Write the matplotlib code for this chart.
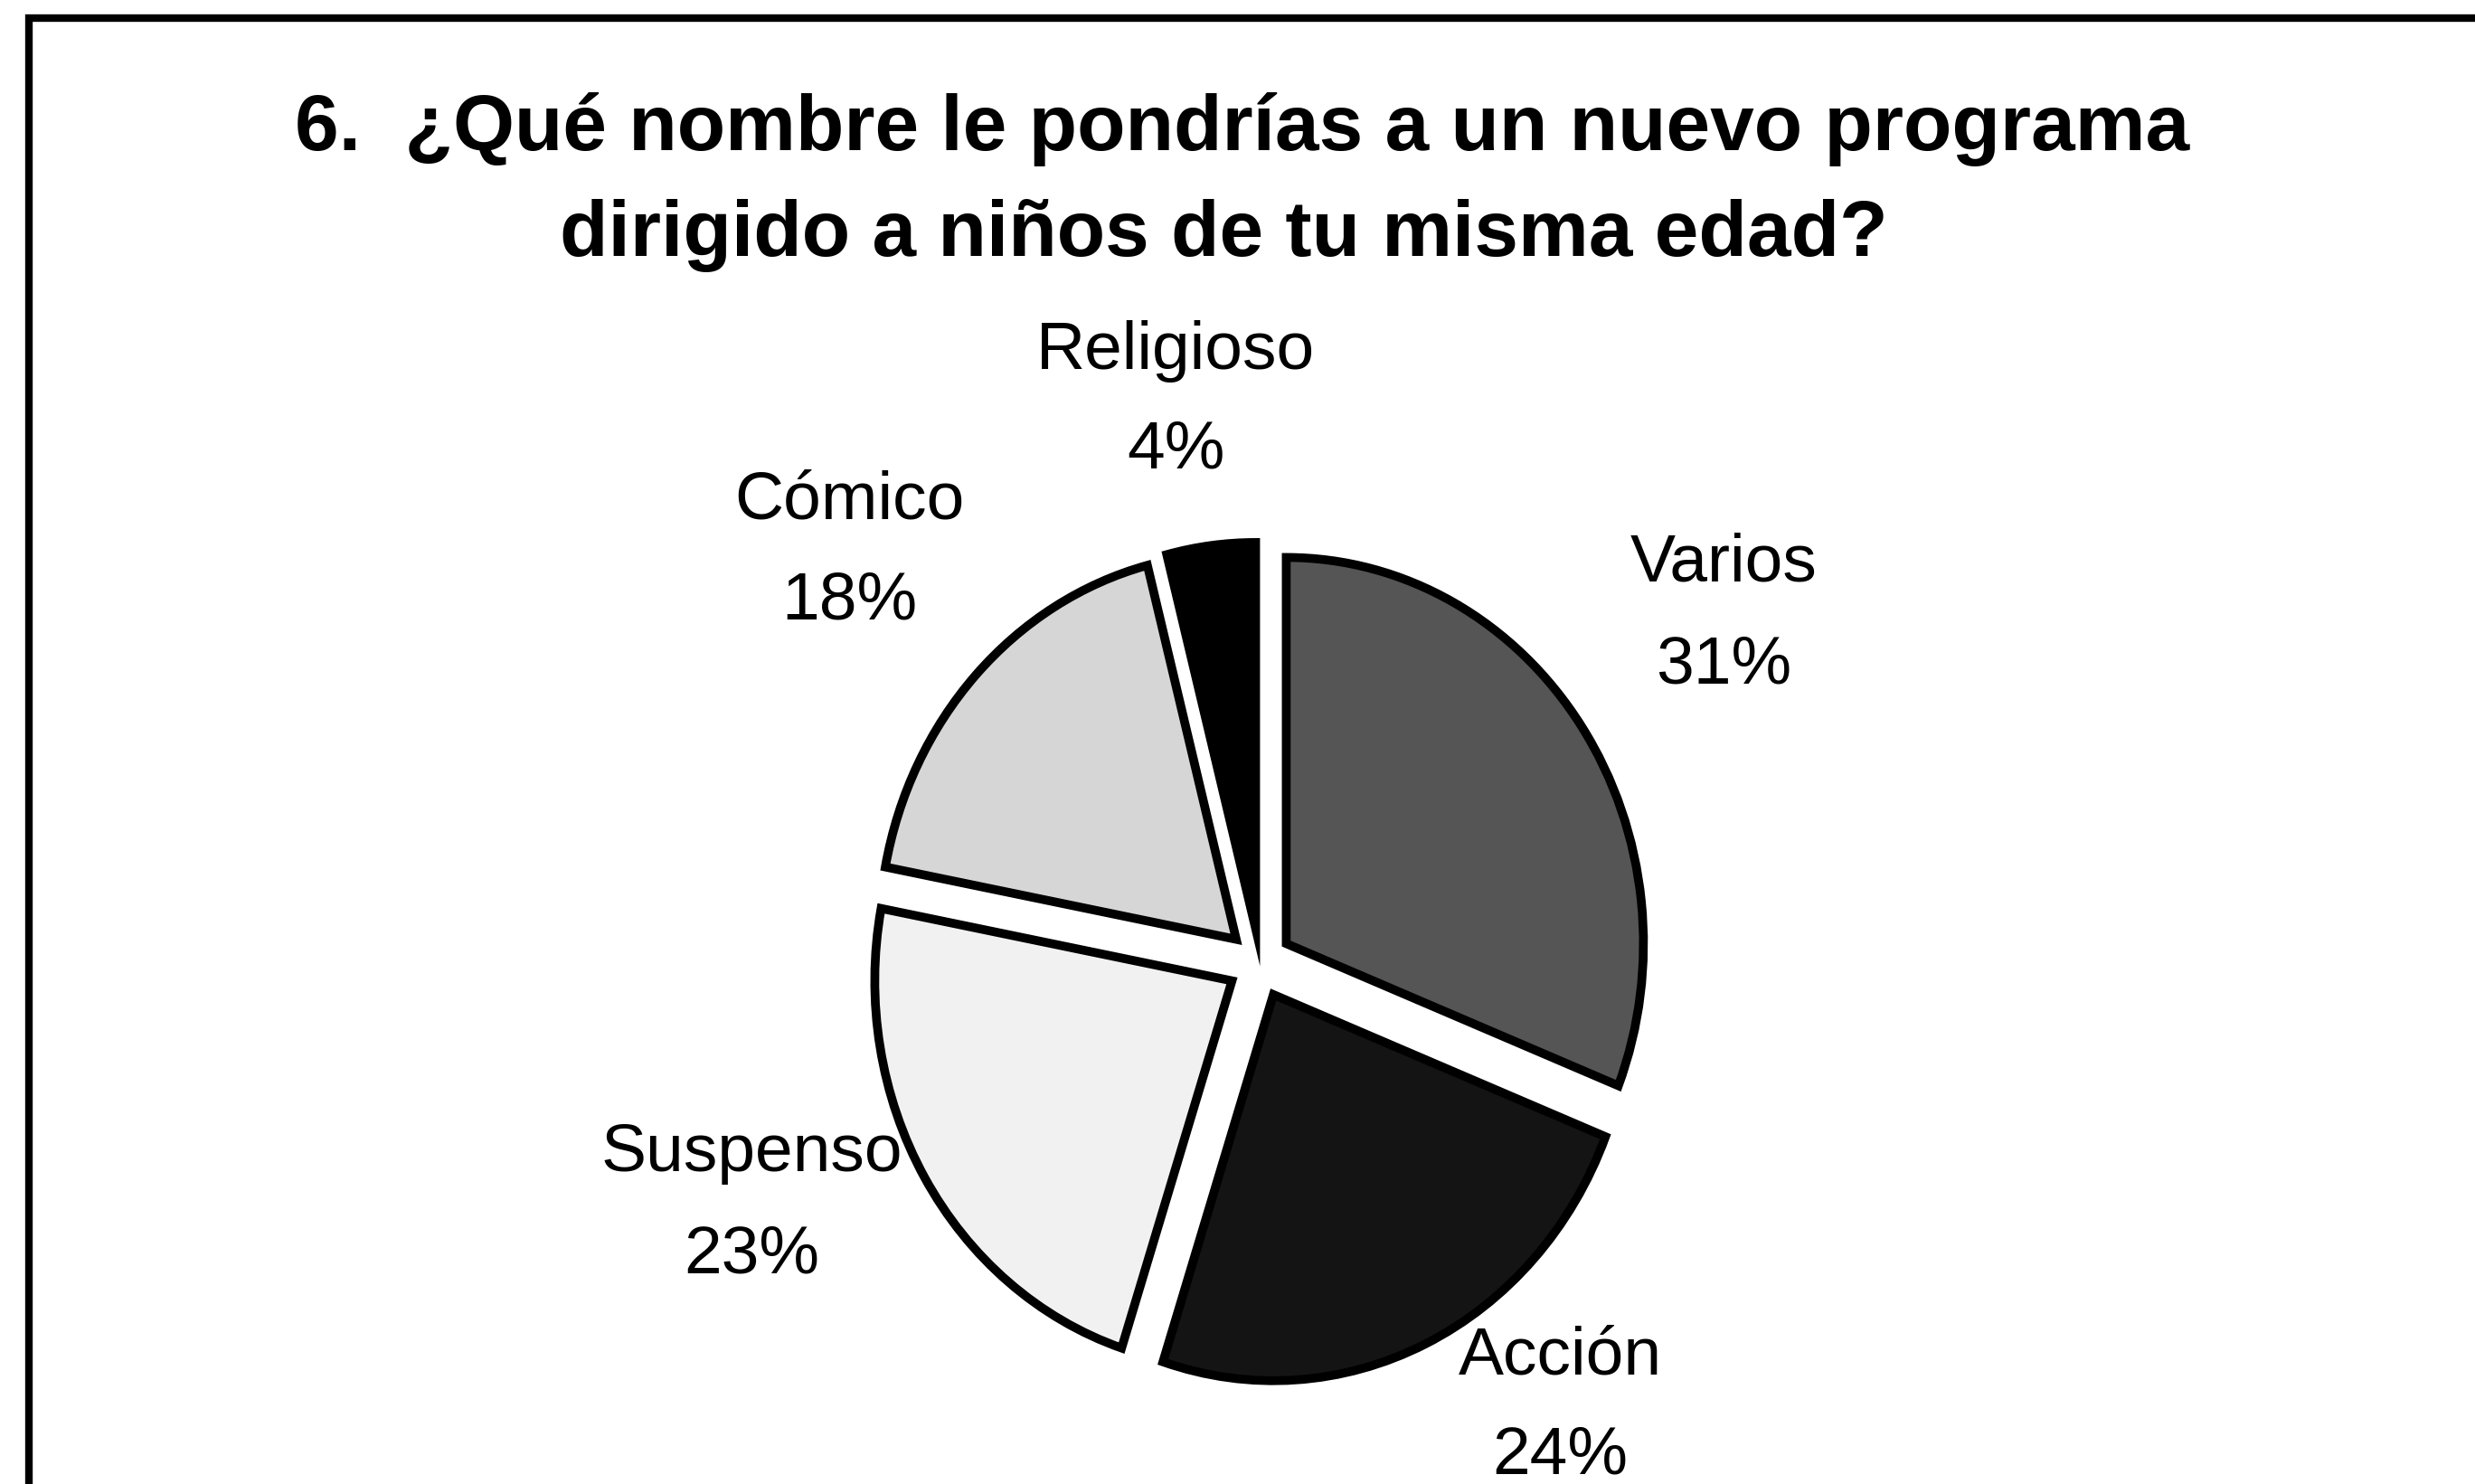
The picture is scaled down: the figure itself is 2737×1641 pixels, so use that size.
import matplotlib
matplotlib.use('Agg')
import matplotlib.pyplot as plt
from matplotlib.patches import Rectangle

# Datos del gráfico
categorias = ['Varios', 'Acción', 'Suspenso', 'Cómico', 'Religioso']
porcentajes = [31, 24, 23, 18, 4]
colores = ['#555555', '#141414', '#f1f1f1', '#d6d6d6', '#000000']

titulo_1 = '6.  ¿Qué nombre le pondrías a un nuevo programa'
titulo_2 = 'dirigido a niños de tu misma edad?'

# Posición de las etiquetas (px de la figura: x centro, línea base nombre, línea base %)
pos_etiquetas = [
    (1906, 642, 756),
    (1725, 1519, 1629),
    (831, 1295, 1407),
    (939, 573, 684),
    (1300, 408, 518),
]

W, H = 2737, 1641
fig = plt.figure(figsize=(W / 100, H / 100), dpi=100)
plt.rcParams['font.family'] = ['Liberation Sans', 'DejaVu Sans']

# Ejes colocados para que el centro del pastel quede en (1393, 1065) px
ax = fig.add_axes([0.2203, -0.1694, 0.5773, 1.0408])
ax.pie(
    porcentajes,
    colors=colores,
    startangle=90,
    counterclock=False,
    explode=[0.09] * len(porcentajes),
    wedgeprops=dict(edgecolor='black', linewidth=7, joinstyle='miter'),
)
ax.set_xlim(-2, 2)
ax.set_ylim(-2, 2)
ax.set_aspect('auto')
ax.axis('off')

for cat, val, (x, y1, y2) in zip(categorias, porcentajes, pos_etiquetas):
    fig.text(x / W, 1 - y1 / H, cat, ha='center', va='baseline', fontsize=54)
    fig.text(x / W, 1 - y2 / H, f'{val}%', ha='center', va='baseline', fontsize=54)

fig.text(1374 / W, 1 - 166 / H, titulo_1, ha='center', va='baseline',
         fontsize=63, fontweight='bold')
fig.text(1353 / W, 1 - 283 / H, titulo_2, ha='center', va='baseline',
         fontsize=63, fontweight='bold')

# Marco del gráfico (solo se ven el borde superior y el izquierdo)
fig.patches.append(Rectangle((32 / W, -0.1), 1.2, 1.1 - 20 / H,
                             transform=fig.transFigure, fill=False,
                             edgecolor='black', linewidth=6))

fig.savefig('out.png', dpi=100, facecolor='white')
